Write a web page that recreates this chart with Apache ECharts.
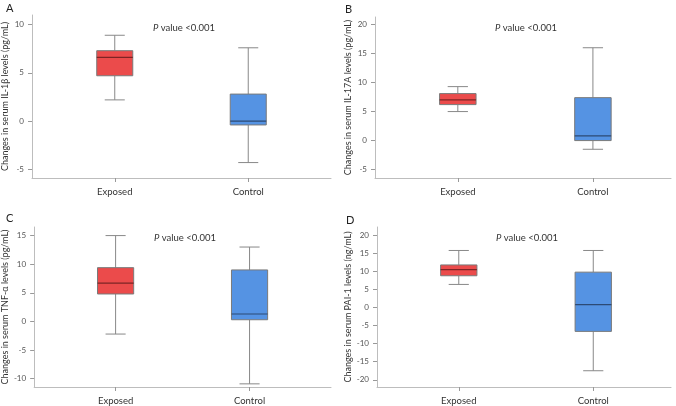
<!DOCTYPE html>
<html><head><meta charset="utf-8">
<script src="https://cdn.jsdelivr.net/npm/echarts@6/dist/echarts.min.js"></script>
<style>html,body{margin:0;padding:0;background:#fff}#c{width:676px;height:406px}</style>
</head><body><div id="c"></div>
<script>
// Data: [low whisker, Q1, median, Q3, high whisker]
const categories = ['Exposed', 'Control'];
const boxA = [[2.2, 4.7, 6.6, 7.3, 8.9], [-4.3, -0.4, 0.0, 2.8, 7.6]];
const boxB = [[5.0, 6.2, 7.0, 8.1, 9.3], [-1.5, 0.0, 0.8, 7.4, 16.0]];
const boxC = [[-2.2, 4.8, 6.7, 9.4, 15.0], [-10.9, 0.3, 1.3, 9.0, 13.0]];
const boxD = [[6.4, 8.8, 10.5, 11.8, 15.8], [-17.5, -6.6, 0.8, 9.8, 15.8]];
const ticksA = [-5, 0, 5, 10];
const ticksB = [-5, 0, 5, 10, 15, 20];
const ticksC = [-10, -5, 0, 5, 10, 15];
const ticksD = [-20, -15, -10, -5, 0, 5, 10, 15, 20];
const titlesY = ['Changes in serum IL-1β levels (pg/mL)', 'Changes in serum IL-17A levels (pg/mL)',
  'Changes in serum TNF-α levels (pg/mL)', 'Changes in serum PAI-1 levels (ng/mL)'];
const panelLetters = ['A', 'B', 'C', 'D'];
const pText = 'value <0.001';

const FONT = 'Lato';
const fills = ['#EB4B4B', '#5593E3'];
const medians = ['#7d2424', '#2c4a75'];

const panels = [
  {box: boxA, ticks: ticksA, grid: {left: 31, top: 15, width: 300, height: 163}, x: [-0.62, 1.62], y: [-5.9, 11.0], letter: [1, 4], pTop: 18},
  {box: boxB, ticks: ticksB, grid: {left: 375, top: 17, width: 296, height: 161}, x: [-0.613, 1.578], y: [-6.45, 21.3], letter: [340, 5], pTop: 18},
  {box: boxC, ticks: ticksC, grid: {left: 33, top: 227, width: 298, height: 161}, x: [-0.608, 1.608], y: [-11.45, 16.5], letter: [1, 214], pTop: 228},
  {box: boxD, ticks: ticksD, grid: {left: 377, top: 227, width: 294, height: 160}, x: [-0.608, 1.578], y: [-22.0, 22.3], letter: [341, 216], pTop: 228}
];

const grids = [], xAxes = [], yAxes = [], series = [], titles = [];
panels.forEach((p, k) => {
  grids.push(p.grid);
  xAxes.push({
    type: 'value', gridIndex: k, min: p.x[0], max: p.x[1],
    splitLine: {show: false},
    axisLine: {show: true, onZero: false, lineStyle: {color: '#bdbdbd', width: 1}},
    axisTick: {show: true, customValues: [0, 1], length: 4, lineStyle: {color: '#999'}},
    axisLabel: {show: true, customValues: [0, 1], formatter: v => categories[Math.round(v)] || '',
      color: '#333', fontFamily: FONT, fontSize: 9.5, margin: 9}
  });
  yAxes.push({
    type: 'value', gridIndex: k, min: p.y[0], max: p.y[1],
    name: titlesY[k], nameLocation: 'middle', nameGap: 22, nameRotate: 90,
    nameTextStyle: {color: '#333', fontFamily: FONT, fontSize: 9},
    splitLine: {show: false},
    axisLine: {show: true, onZero: false, lineStyle: {color: '#bdbdbd', width: 1}},
    axisTick: {show: true, customValues: p.ticks, length: 4, lineStyle: {color: '#999'}},
    axisLabel: {show: true, customValues: p.ticks, color: '#555', fontFamily: FONT, fontSize: 8, margin: 8}
  });
  series.push({
    type: 'custom', xAxisIndex: k, yAxisIndex: k,
    data: p.box.map((b, i) => [i].concat(b)),
    encode: {x: 0, y: [1, 2, 3, 4, 5]},
    renderItem: function (params, api) {
      const i = api.value(0);
      const c = [1, 2, 3, 4, 5].map(j => api.coord([i, api.value(j)]));
      const hw = api.size([0.27, 0])[0] / 2;
      const cw = api.size([0.15, 0])[0] / 2;
      const x = c[0][0];
      const ls = {stroke: '#888', lineWidth: 1};
      return {type: 'group', children: [
        {type: 'line', shape: {x1: x, y1: c[0][1], x2: x, y2: c[1][1]}, style: ls},
        {type: 'line', shape: {x1: x, y1: c[3][1], x2: x, y2: c[4][1]}, style: ls},
        {type: 'line', shape: {x1: x - cw, y1: c[0][1], x2: x + cw, y2: c[0][1]}, style: ls},
        {type: 'line', shape: {x1: x - cw, y1: c[4][1], x2: x + cw, y2: c[4][1]}, style: ls},
        {type: 'rect', shape: {x: x - hw, y: c[3][1], width: 2 * hw, height: c[1][1] - c[3][1]},
          style: {fill: fills[i], stroke: '#7a7a7a', lineWidth: 1}},
        {type: 'line', shape: {x1: x - hw, y1: c[2][1], x2: x + hw, y2: c[2][1]},
          style: {stroke: medians[i], lineWidth: 1.2}}
      ]};
    }
  });
  titles.push({
    text: '{i|P} ' + pText, left: p.grid.left + p.grid.width / 2 - 2, top: p.pTop, textAlign: 'center',
    textStyle: {fontFamily: FONT, fontSize: 9.5, fontWeight: 'normal', color: '#333',
      rich: {i: {fontStyle: 'italic', fontFamily: FONT, fontSize: 9.5, color: '#333'}}}
  });
  titles.push({
    text: panelLetters[k], left: p.letter[0], top: p.letter[1] - 6,
    textStyle: {fontFamily: FONT, fontSize: 11, fontWeight: 'normal', color: '#222'}
  });
});

const chart = echarts.init(document.getElementById('c'), null, {renderer: 'canvas'});
chart.setOption({
  backgroundColor: '#fff', animation: false,
  title: titles, grid: grids, xAxis: xAxes, yAxis: yAxes, series: series
});
</script></body></html>
